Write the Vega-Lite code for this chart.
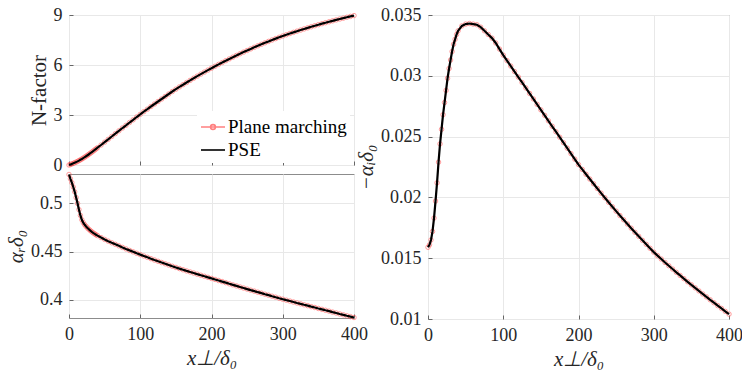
{
  "$schema": "https://vega.github.io/schema/vega-lite/v6.json",
  "background": "white",
  "padding": 5,
  "datasets": {
    "curves": [
      {"x": 0, "N": 0, "ar": 0.5300, "ai": 0.0159},
      {"x": 2, "N": 0.032, "ar": 0.5255, "ai": 0.0161},
      {"x": 4, "N": 0.065, "ar": 0.5215, "ai": 0.0165},
      {"x": 6, "N": 0.100, "ar": 0.5170, "ai": 0.0172},
      {"x": 8, "N": 0.137, "ar": 0.5120, "ai": 0.0183},
      {"x": 10, "N": 0.176, "ar": 0.5060, "ai": 0.0197},
      {"x": 12, "N": 0.218, "ar": 0.5000, "ai": 0.0212},
      {"x": 14, "N": 0.263, "ar": 0.4935, "ai": 0.0229},
      {"x": 16, "N": 0.311, "ar": 0.4875, "ai": 0.0244},
      {"x": 18, "N": 0.361, "ar": 0.4830, "ai": 0.0256},
      {"x": 20, "N": 0.414, "ar": 0.4800, "ai": 0.0268},
      {"x": 22, "N": 0.469, "ar": 0.4778, "ai": 0.0278},
      {"x": 24, "N": 0.526, "ar": 0.4760, "ai": 0.0288},
      {"x": 26, "N": 0.585, "ar": 0.4744, "ai": 0.0298},
      {"x": 28, "N": 0.646, "ar": 0.4730, "ai": 0.0306},
      {"x": 30, "N": 0.708, "ar": 0.4717, "ai": 0.0313},
      {"x": 32, "N": 0.771, "ar": 0.4705, "ai": 0.0320},
      {"x": 34, "N": 0.836, "ar": 0.4694, "ai": 0.0326},
      {"x": 36, "N": 0.902, "ar": 0.4684, "ai": 0.0330},
      {"x": 38, "N": 0.969, "ar": 0.4674, "ai": 0.0334},
      {"x": 40, "N": 1.036, "ar": 0.4665, "ai": 0.0337},
      {"x": 45, "N": 1.20, "ar": 0.4645, "ai": 0.0341},
      {"x": 50, "N": 1.37, "ar": 0.4626, "ai": 0.03425},
      {"x": 55, "N": 1.54, "ar": 0.4608, "ai": 0.0343},
      {"x": 60, "N": 1.71, "ar": 0.4591, "ai": 0.03425},
      {"x": 65, "N": 1.88, "ar": 0.4575, "ai": 0.0342},
      {"x": 70, "N": 2.05, "ar": 0.4559, "ai": 0.0340},
      {"x": 75, "N": 2.22, "ar": 0.4543, "ai": 0.0337},
      {"x": 80, "N": 2.38, "ar": 0.4527, "ai": 0.0334},
      {"x": 85, "N": 2.55, "ar": 0.4512, "ai": 0.0331},
      {"x": 90, "N": 2.71, "ar": 0.4497, "ai": 0.0327},
      {"x": 95, "N": 2.88, "ar": 0.4482, "ai": 0.0322},
      {"x": 100, "N": 3.04, "ar": 0.4468, "ai": 0.0317},
      {"x": 105, "N": 3.20, "ar": 0.4454, "ai": 0.03125},
      {"x": 110, "N": 3.35, "ar": 0.4440, "ai": 0.0308},
      {"x": 115, "N": 3.51, "ar": 0.4426, "ai": 0.03035},
      {"x": 120, "N": 3.66, "ar": 0.4412, "ai": 0.0299},
      {"x": 125, "N": 3.81, "ar": 0.4399, "ai": 0.02945},
      {"x": 130, "N": 3.96, "ar": 0.4386, "ai": 0.0290},
      {"x": 135, "N": 4.11, "ar": 0.4373, "ai": 0.02855},
      {"x": 140, "N": 4.26, "ar": 0.4360, "ai": 0.0281},
      {"x": 145, "N": 4.41, "ar": 0.4347, "ai": 0.02765},
      {"x": 150, "N": 4.55, "ar": 0.4335, "ai": 0.0272},
      {"x": 155, "N": 4.685, "ar": 0.4323, "ai": 0.02675},
      {"x": 160, "N": 4.818, "ar": 0.4311, "ai": 0.0263},
      {"x": 165, "N": 4.949, "ar": 0.4299, "ai": 0.02585},
      {"x": 170, "N": 5.078, "ar": 0.4288, "ai": 0.0254},
      {"x": 175, "N": 5.205, "ar": 0.4277, "ai": 0.02495},
      {"x": 180, "N": 5.330, "ar": 0.4265, "ai": 0.0245},
      {"x": 185, "N": 5.453, "ar": 0.4254, "ai": 0.02405},
      {"x": 190, "N": 5.574, "ar": 0.4243, "ai": 0.0236},
      {"x": 195, "N": 5.693, "ar": 0.4232, "ai": 0.02315},
      {"x": 200, "N": 5.81, "ar": 0.4221, "ai": 0.0227},
      {"x": 205, "N": 5.925, "ar": 0.4210, "ai": 0.0223},
      {"x": 210, "N": 6.038, "ar": 0.4199, "ai": 0.0219},
      {"x": 215, "N": 6.149, "ar": 0.4188, "ai": 0.02151},
      {"x": 220, "N": 6.258, "ar": 0.4177, "ai": 0.02112},
      {"x": 225, "N": 6.365, "ar": 0.4165, "ai": 0.02073},
      {"x": 230, "N": 6.470, "ar": 0.4154, "ai": 0.02035},
      {"x": 235, "N": 6.573, "ar": 0.4143, "ai": 0.01997},
      {"x": 240, "N": 6.674, "ar": 0.4132, "ai": 0.0196},
      {"x": 245, "N": 6.773, "ar": 0.4121, "ai": 0.01923},
      {"x": 250, "N": 6.870, "ar": 0.4110, "ai": 0.01887},
      {"x": 255, "N": 6.966, "ar": 0.4099, "ai": 0.01851},
      {"x": 260, "N": 7.060, "ar": 0.4089, "ai": 0.01816},
      {"x": 265, "N": 7.152, "ar": 0.4078, "ai": 0.01781},
      {"x": 270, "N": 7.242, "ar": 0.4068, "ai": 0.01747},
      {"x": 275, "N": 7.330, "ar": 0.4057, "ai": 0.01713},
      {"x": 280, "N": 7.416, "ar": 0.4047, "ai": 0.0168},
      {"x": 285, "N": 7.500, "ar": 0.4036, "ai": 0.01647},
      {"x": 290, "N": 7.582, "ar": 0.4026, "ai": 0.01614},
      {"x": 295, "N": 7.662, "ar": 0.4015, "ai": 0.01582},
      {"x": 300, "N": 7.740, "ar": 0.4005, "ai": 0.0155},
      {"x": 305, "N": 7.815, "ar": 0.3995, "ai": 0.01521},
      {"x": 310, "N": 7.888, "ar": 0.3986, "ai": 0.01493},
      {"x": 315, "N": 7.959, "ar": 0.3976, "ai": 0.01465},
      {"x": 320, "N": 8.029, "ar": 0.3966, "ai": 0.01438},
      {"x": 325, "N": 8.097, "ar": 0.3957, "ai": 0.01411},
      {"x": 330, "N": 8.164, "ar": 0.3947, "ai": 0.01384},
      {"x": 335, "N": 8.230, "ar": 0.3938, "ai": 0.01358},
      {"x": 340, "N": 8.294, "ar": 0.3928, "ai": 0.01332},
      {"x": 345, "N": 8.357, "ar": 0.3919, "ai": 0.01306},
      {"x": 350, "N": 8.419, "ar": 0.3909, "ai": 0.01281},
      {"x": 355, "N": 8.479, "ar": 0.3900, "ai": 0.01256},
      {"x": 360, "N": 8.537, "ar": 0.3890, "ai": 0.01231},
      {"x": 365, "N": 8.594, "ar": 0.3881, "ai": 0.01206},
      {"x": 370, "N": 8.650, "ar": 0.3871, "ai": 0.01182},
      {"x": 375, "N": 8.705, "ar": 0.3862, "ai": 0.01158},
      {"x": 380, "N": 8.759, "ar": 0.3852, "ai": 0.01134},
      {"x": 385, "N": 8.812, "ar": 0.3843, "ai": 0.0111},
      {"x": 390, "N": 8.864, "ar": 0.3833, "ai": 0.01087},
      {"x": 395, "N": 8.915, "ar": 0.3824, "ai": 0.01063},
      {"x": 400, "N": 8.965, "ar": 0.3815, "ai": 0.0104}
    ],
    "legend": [
      {"series": "Plane marching"},
      {"series": "PSE"}
    ]
  },
  "config": {
    "font": "Liberation Serif",
    "view": {"stroke": "#8c8c8c", "strokeWidth": 1},
    "axis": {
      "labelFont": "Liberation Serif",
      "labelFontSize": 18,
      "labelColor": "#262626",
      "labelFlush": false,
      "titleFont": "Liberation Serif",
      "titleFontSize": 21,
      "titleFontWeight": "normal",
      "titleColor": "#262626",
      "gridColor": "#e8e8e8",
      "domain": false,
      "tickColor": "#666666",
      "tickSize": -4,
      "labelPadding": 11
    },
    "legend": {
      "labelFont": "Liberation Serif"
    }
  },
  "hconcat": [
    {
      "vconcat": [
        {
          "width": 285,
          "height": 150,
          "layer": [
            {
              "data": {"name": "curves"},
              "mark": {"type": "line", "color": "#ffb0b0", "strokeWidth": 0.8},
              "encoding": {
                "x": {"field": "x", "type": "quantitative", "scale": {"domain": [0, 400], "nice": false},
                      "axis": {"values": [0, 100, 200, 300, 400], "labels": false, "title": null}},
                "y": {"field": "N", "type": "quantitative", "scale": {"domain": [0, 9], "nice": false},
                      "axis": {"values": [0, 3, 6, 9], "title": "N-factor"}}
              }
            },
            {
              "data": {"name": "curves"},
              "mark": {"type": "point", "shape": "circle", "filled": false, "stroke": "#ff4d4d", "strokeWidth": 0.8, "size": 20, "opacity": 0.7},
              "encoding": {
                "x": {"field": "x", "type": "quantitative"},
                "y": {"field": "N", "type": "quantitative"}
              }
            },
            {
              "data": {"name": "curves"},
              "mark": {"type": "line", "color": "#000000", "strokeWidth": 2.2},
              "encoding": {
                "x": {"field": "x", "type": "quantitative"},
                "y": {"field": "N", "type": "quantitative"}
              }
            },
            {
              "data": {"name": "legend"},
              "mark": {"type": "point", "filled": false, "opacity": 0},
              "encoding": {
                "color": {"field": "series", "type": "nominal",
                          "scale": {"domain": ["Plane marching", "PSE"], "range": ["#ff8080", "#000000"]},
                          "legend": {"orient": "none", "legendX": 128, "legendY": 96, "title": null,
                                     "labelFontSize": 19, "labelColor": "#000000",
                                     "symbolSize": 576, "symbolStrokeWidth": 1.6, "symbolOpacity": 1,
                                     "fillColor": "white", "padding": 3, "rowPadding": -3, "labelOffset": 2}},
                "shape": {"field": "series", "type": "nominal",
                          "scale": {"domain": ["Plane marching", "PSE"],
                                    "range": ["M-1,0H1M0.2,0A0.2,0.2,0,1,1,-0.2,0A0.2,0.2,0,1,1,0.2,0", "M-1,0H1"]},
                          "legend": {"orient": "none", "legendX": 128, "legendY": 96, "title": null}}
              }
            }
          ]
        },
        {
          "width": 285,
          "height": 144,
          "layer": [
            {
              "data": {"name": "curves"},
              "mark": {"type": "line", "color": "#ffb0b0", "strokeWidth": 0.8},
              "encoding": {
                "x": {"field": "x", "type": "quantitative", "scale": {"domain": [0, 400], "nice": false},
                      "axis": {"values": [0, 100, 200, 300, 400], "title": "x⊥/δ₀", "titleFontStyle": "italic"}},
                "y": {"field": "ar", "type": "quantitative", "scale": {"domain": [0.381, 0.5305], "nice": false, "zero": false},
                      "axis": {"values": [0.4, 0.45, 0.5], "format": ".2~f", "title": "αᵣδ₀", "titleFontStyle": "italic"}}
              }
            },
            {
              "data": {"name": "curves"},
              "mark": {"type": "point", "shape": "circle", "filled": false, "stroke": "#ff4d4d", "strokeWidth": 0.8, "size": 20, "opacity": 0.7},
              "encoding": {
                "x": {"field": "x", "type": "quantitative"},
                "y": {"field": "ar", "type": "quantitative"}
              }
            },
            {
              "data": {"name": "curves"},
              "mark": {"type": "line", "color": "#000000", "strokeWidth": 2.2},
              "encoding": {
                "x": {"field": "x", "type": "quantitative"},
                "y": {"field": "ar", "type": "quantitative"}
              }
            }
          ]
        }
      ],
      "spacing": 9,
      "bounds": "flush"
    },
    {
      "width": 301,
      "height": 304,
      "layer": [
        {
          "data": {"name": "curves"},
          "mark": {"type": "line", "color": "#ffb0b0", "strokeWidth": 0.8},
          "encoding": {
            "x": {"field": "x", "type": "quantitative", "scale": {"domain": [0, 400], "nice": false},
                  "axis": {"values": [0, 100, 200, 300, 400], "title": "x⊥/δ₀", "titleFontStyle": "italic"}},
            "y": {"field": "ai", "type": "quantitative", "scale": {"domain": [0.01, 0.035], "nice": false, "zero": false},
                  "axis": {"values": [0.01, 0.015, 0.02, 0.025, 0.03, 0.035], "format": ".3~f", "title": "−αᵢδ₀", "titleFontStyle": "italic"}}
          }
        },
        {
          "data": {"name": "curves"},
          "mark": {"type": "point", "shape": "circle", "filled": false, "stroke": "#ff4d4d", "strokeWidth": 0.8, "size": 20, "opacity": 0.7},
          "encoding": {
            "x": {"field": "x", "type": "quantitative"},
            "y": {"field": "ai", "type": "quantitative"}
          }
        },
        {
          "data": {"name": "curves"},
          "mark": {"type": "line", "color": "#000000", "strokeWidth": 2.2},
          "encoding": {
            "x": {"field": "x", "type": "quantitative"},
            "y": {"field": "ai", "type": "quantitative"}
          }
        }
      ]
    }
  ],
  "spacing": 359,
  "bounds": "flush"
}
